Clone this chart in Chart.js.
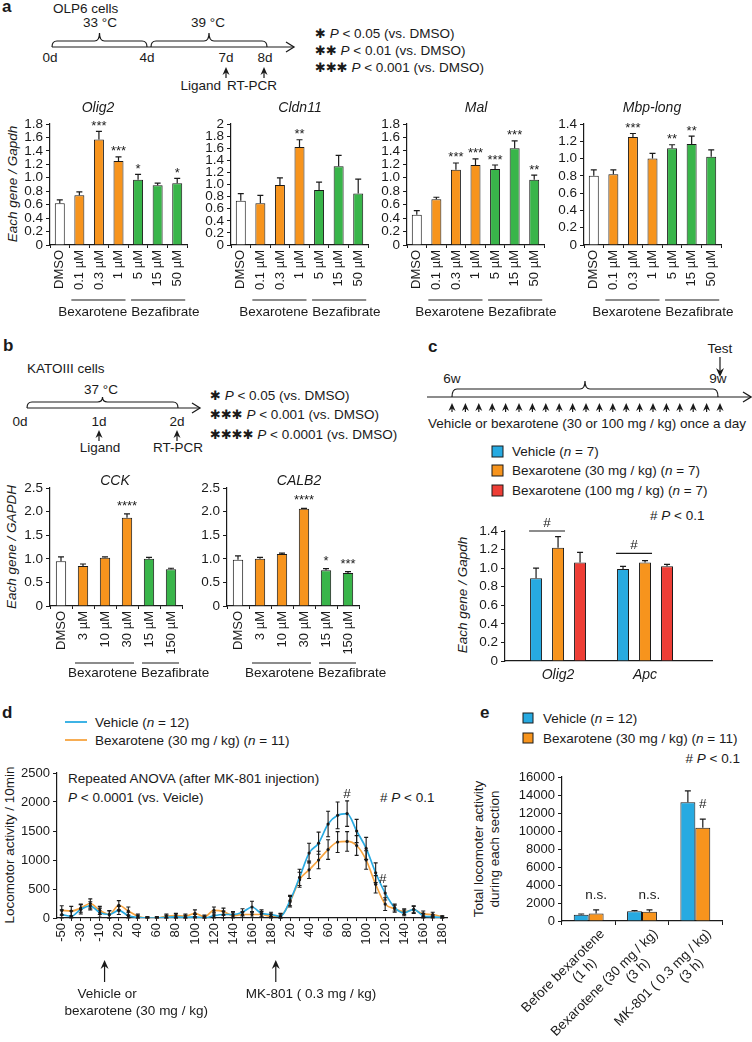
<!DOCTYPE html>
<html>
<head>
<meta charset="utf-8">
<title>Bexarotene figure</title>
<script src="https://cdn.jsdelivr.net/npm/chart.js@4.4.1/dist/chart.umd.min.js"></script>
<style>
  html, body { margin: 0; padding: 0; background: #fff; }
  #fig { position: relative; width: 752px; height: 1042px; overflow: hidden; background: #fff; }
  #fig canvas { position: absolute; }
  #art { position: absolute; left: 0; top: 0; }
  #art text { font-family: "Liberation Sans", Arial, sans-serif; font-size: 13.5px; fill: #1a1a1a; }
  #art .lbl { font-weight: bold; font-size: 17px; }
  #art .it { font-style: italic; }
  #art .star { font-family: "DejaVu Sans", sans-serif; font-size: 13px; }
</style>
</head>
<body>
<div id="fig">
<svg id="art" width="752" height="1042" xml:space="preserve">
  <!-- a: OLP6 timeline -->
  <text class="lbl" x="2" y="12">a</text>
  <text x="53" y="13">OLP6 cells</text>
  <text x="100" y="27" text-anchor="middle">33 °C</text>
  <text x="208" y="27" text-anchor="middle">39 °C</text>
  <text x="50" y="62" text-anchor="middle">0d</text>
  <text x="147" y="62" text-anchor="middle">4d</text>
  <text x="226" y="62" text-anchor="middle">7d</text>
  <text x="265" y="62" text-anchor="middle">8d</text>
  <text x="221" y="90" text-anchor="end">Ligand</text>
  <text x="227" y="90">RT-PCR</text>
  <text x="315" y="38"><tspan class="star">✱</tspan> <tspan class="it">P</tspan> &lt; 0.05  (vs. DMSO)</text>
  <text x="315" y="55"><tspan class="star">✱✱</tspan> <tspan class="it">P</tspan> &lt; 0.01  (vs. DMSO)</text>
  <text x="315" y="72"><tspan class="star">✱✱✱</tspan>  <tspan class="it">P</tspan> &lt; 0.001  (vs. DMSO)</text>
  <text class="it" font-size="14" transform="translate(17,184) rotate(-90)" text-anchor="middle">Each gene / Gapdh</text>

  <!-- b: KATOIII timeline -->
  <text class="lbl" x="3" y="351">b</text>
  <text x="27" y="373">KATOIII cells</text>
  <text x="101" y="394" text-anchor="middle">37 °C</text>
  <text x="20" y="426" text-anchor="middle">0d</text>
  <text x="99" y="426" text-anchor="middle">1d</text>
  <text x="177" y="426" text-anchor="middle">2d</text>
  <text x="100" y="452" text-anchor="middle">Ligand</text>
  <text x="178" y="452" text-anchor="middle">RT-PCR</text>
  <text x="210" y="400"><tspan class="star">✱</tspan> <tspan class="it">P</tspan> &lt; 0.05  (vs. DMSO)</text>
  <text x="210" y="419"><tspan class="star">✱✱✱</tspan>  <tspan class="it">P</tspan> &lt; 0.001 (vs. DMSO)</text>
  <text x="210" y="439"><tspan class="star">✱✱✱✱</tspan>  <tspan class="it">P</tspan> &lt; 0.0001 (vs. DMSO)</text>
  <text class="it" font-size="14" transform="translate(16,547) rotate(-90)" text-anchor="middle">Each gene / GAPDH</text>

  <!-- c: in vivo schedule -->
  <text class="lbl" x="428" y="352">c</text>
  <text x="720" y="353" text-anchor="middle">Test</text>
  <text x="452" y="383" text-anchor="middle">6w</text>
  <text x="718" y="383" text-anchor="middle">9w</text>
  <text x="587" y="428" text-anchor="middle">Vehicle or bexarotene (30 or 100 mg / kg) once a day</text>
  <rect x="492" y="446" width="11" height="11" fill="#27AAE1" stroke="#1a1a1a" stroke-width="1"/>
  <rect x="492" y="465" width="11" height="11" fill="#F7941D" stroke="#1a1a1a" stroke-width="1"/>
  <rect x="492" y="485" width="11" height="11" fill="#EE3E36" stroke="#1a1a1a" stroke-width="1"/>
  <text x="512" y="456">Vehicle (<tspan class="it">n</tspan> = 7)</text>
  <text x="512" y="475">Bexarotene (30 mg / kg) (<tspan class="it">n</tspan> = 7)</text>
  <text x="512" y="495">Bexarotene (100 mg / kg) (<tspan class="it">n</tspan> = 7)</text>
  <text x="650" y="520"># <tspan class="it">P</tspan> &lt; 0.1</text>
  <text class="it" font-size="14" transform="translate(467,595) rotate(-90)" text-anchor="middle">Each gene / Gapdh</text>

  <!-- d -->
  <text class="lbl" x="2" y="718">d</text>
  <text x="95" y="727">Vehicle (<tspan class="it">n</tspan> = 12)</text>
  <text x="95" y="745">Bexarotene (30 mg / kg) (<tspan class="it">n</tspan> = 11)</text>
  <text x="68" y="783">Repeated ANOVA (after MK-801 injection)</text>
  <text x="68" y="802"><tspan class="it">P</tspan> &lt; 0.0001 (vs. Veicle)</text>
  <text x="380" y="802"># <tspan class="it">P</tspan> &lt; 0.1</text>
  <text transform="translate(14,845) rotate(-90)" text-anchor="middle">Locomotor activity / 10min</text>

  <!-- e -->
  <text class="lbl" x="480" y="718">e</text>
  <rect x="523" y="713" width="10" height="10" fill="#27AAE1" stroke="#1a1a1a" stroke-width="1"/>
  <rect x="523" y="733" width="10" height="10" fill="#F7941D" stroke="#1a1a1a" stroke-width="1"/>
  <text x="543" y="723">Vehicle (<tspan class="it">n</tspan> = 12)</text>
  <text x="543" y="743">Bexarotene (30 mg / kg) (<tspan class="it">n</tspan> = 11)</text>
  <text x="740" y="763" text-anchor="end"># <tspan class="it">P</tspan> &lt; 0.1</text>
  <text transform="translate(483,849) rotate(-90)" text-anchor="middle">Total locomoter activity</text>
  <text transform="translate(499,849) rotate(-90)" text-anchor="middle">during each section</text>
</svg>
</div>

<script>
// ---- a: OLP6 cells, qPCR (each gene / Gapdh) ----
const aDoses = ["DMSO", "0.1 µM", "0.3 µM", "1 µM", "5 µM", "15 µM", "50 µM"];
const drugGroups = ["Bexarotene", "Bezafibrate"];
const olig2Mean = [0.62, 0.74, 1.57, 1.25, 0.97, 0.89, 0.92];
const olig2Err  = [0.05, 0.05, 0.12, 0.06, 0.08, 0.03, 0.07];
const olig2Sig  = ["", "", "***", "***", "*", "", "*"];
const cldn11Mean = [0.73, 0.69, 0.99, 1.62, 0.91, 1.30, 0.85];
const cldn11Err  = [0.12, 0.13, 0.12, 0.12, 0.13, 0.18, 0.24];
const cldn11Sig  = ["", "", "", "**", "", "", ""];
const malMean = [0.45, 0.68, 1.12, 1.19, 1.13, 1.44, 0.97];
const malErr  = [0.06, 0.03, 0.10, 0.09, 0.06, 0.11, 0.07];
const malSig  = ["", "", "***", "***", "***", "***", "**"];
const mbpMean = [0.80, 0.82, 1.25, 1.00, 1.12, 1.17, 1.02];
const mbpErr  = [0.07, 0.05, 0.04, 0.06, 0.04, 0.09, 0.08];
const mbpSig  = ["", "", "***", "", "**", "**", ""];

// ---- b: KATOIII cells (each gene / GAPDH) ----
const bDoses = ["DMSO", "3 µM", "10 µM", "30 µM", "15 µM", "150 µM"];
const cckMean = [0.95, 0.85, 1.02, 1.87, 1.00, 0.78];
const cckErr  = [0.09, 0.04, 0.02, 0.08, 0.03, 0.02];
const cckSig  = ["", "", "", "****", "", ""];
const calb2Mean = [0.98, 1.00, 1.10, 2.06, 0.76, 0.70];
const calb2Err  = [0.08, 0.03, 0.02, 0.01, 0.03, 0.03];
const calb2Sig  = ["", "", "", "****", "*", "***"];

// ---- c: in vivo, each gene / Gapdh ----
const cGenes = ["Olig2", "Apc"];
const cVehicle = [0.89, 0.99];
const cVehicleErr = [0.11, 0.03];
const cBex30 = [1.22, 1.06];
const cBex30Err = [0.12, 0.02];
const cBex100 = [1.06, 1.02];
const cBex100Err = [0.11, 0.02];
const cHashLevel = [1.40, 1.16];

// ---- d: locomotor activity per 10 min ----
const dTimes = [-50, -40, -30, -20, -10,
  10, 20, 30, 40, 50, 60, 70, 80, 90, 100, 110, 120, 130, 140, 150, 160, 170, 180,
  10, 20, 30, 40, 50, 60, 70, 80, 90, 100, 110, 120, 130, 140, 150, 160, 170, 180];
const dVehicle = [60, 30, 150, 210, 90,
  60, 130, 40, 10, 0, 0, 10, 20, 10, 20, 0, 40, 60, 60, 100, 190, 80, 60,
  30, 300, 700, 1120, 1290, 1620, 1770, 1800, 1500, 1200, 780, 430, 180, 90, 150, 40, 20, 10];
const dVehicleErr = [80, 90, 80, 70, 80,
  70, 70, 60, 40, 20, 20, 40, 50, 40, 40, 30, 60, 60, 50, 60, 100, 60, 40,
  40, 90, 140, 170, 190, 220, 230, 220, 200, 190, 170, 120, 60, 50, 60, 40, 30, 20];
const dBex = [130, 120, 170, 250, 130,
  60, 220, 120, 30, 0, 0, 30, 40, 30, 80, 20, 130, 110, 40, 60, 60, 60, 30,
  40, 280, 660, 830, 1000, 1180, 1310, 1320, 1250, 1000, 580, 240, 160, 110, 140, 70, 60, 20];
const dBexErr = [80, 80, 70, 80, 70,
  60, 80, 70, 40, 20, 20, 40, 40, 40, 60, 30, 60, 60, 50, 50, 50, 50, 40,
  40, 90, 130, 150, 150, 170, 180, 170, 170, 160, 150, 110, 60, 50, 60, 50, 40, 20];
const dHashAt = [30, 33];
const dInjectAfter = [4, 22];
const dInjectText = [["Vehicle or", "bexarotene (30 mg / kg)"], ["MK-801 ( 0.3 mg / kg)"]];

// ---- e: total locomotor activity per section ----
const eSections = [["Before bexarotene", "(1 h)"], ["Bexarotene (30 mg / kg)", "(3 h)"], ["MK-801 ( 0.3 mg / kg)", "(3 h)"]];
const eVehicle = [700, 1075, 13200];
const eVehicleErr = [80, 90, 1250];
const eBex = [820, 1040, 10370];
const eBexErr = [420, 200, 950];
const eMarks = ["n.s.", "n.s.", "#"];

// ---------------------------------------------------------------
const INK = "#1a1a1a", ORANGE = "#F7941D", GREEN = "#39B54A", BLUE = "#27AAE1", RED = "#EE3E36";
const LINE_BLUE = "#29ABE2", LINE_ORANGE = "#F7A440";
const FONT = '"Liberation Sans", Arial, sans-serif';

Chart.defaults.font.family = FONT;
Chart.defaults.font.size = 13.5;
Chart.defaults.color = INK;
Chart.defaults.animation = false;

function addCanvas(id, left, top, width, height) {
  const c = document.createElement("canvas");
  c.id = id;
  c.width = width;
  c.height = height;
  c.style.left = left + "px";
  c.style.top = top + "px";
  c.style.width = width + "px";
  c.style.height = height + "px";
  document.getElementById("fig").appendChild(c);
  return c;
}

// keep the plot area where the reference has it
function fixW(w) {
  return s => { s.width = w; s.paddingLeft = s.paddingRight = s.paddingTop = s.paddingBottom = 0; };
}
function fixH(h) {
  return s => { s.height = h; s.paddingLeft = s.paddingRight = s.paddingTop = s.paddingBottom = 0; };
}

const fmt1 = v => v === 0 ? "0" : v.toFixed(1);
const fmtInt = v => String(v);

function valAxis(max, step, w, fmt, size) {
  return {
    min: 0, max: max,
    ticks: { stepSize: step, autoSkip: false, padding: 3, callback: fmt, font: { size: size }, color: INK },
    grid: { drawOnChartArea: false, drawTicks: true, tickLength: 4, color: INK, lineWidth: 1 },
    border: { display: true, color: INK, width: 1.2 },
    afterFit: fixW(w)
  };
}

function catAxis(h, size) {
  return {
    ticks: { autoSkip: false, minRotation: 90, maxRotation: 90, padding: 2, font: { size: size }, color: INK },
    grid: { drawOnChartArea: false, drawTicks: true, tickLength: 3, color: INK, offset: true },
    border: { display: true, color: INK, width: 1.2 },
    afterFit: fixH(h)
  };
}

function errBar(ctx, x, from, to, cap) {
  ctx.beginPath();
  ctx.moveTo(x, from);
  ctx.lineTo(x, to);
  ctx.moveTo(x - cap, to);
  ctx.lineTo(x + cap, to);
  ctx.stroke();
}

// error bars, stars, title and the Bexarotene / Bezafibrate brackets
function geneExtras(p) {
  return {
    id: "geneExtras",
    afterDatasetsDraw(chart) {
      const { ctx, chartArea: area, scales: { x, y } } = chart;
      const bars = chart.getDatasetMeta(0).data;
      ctx.save();
      ctx.strokeStyle = INK;
      ctx.fillStyle = INK;
      ctx.lineWidth = 1.2;
      ctx.textAlign = "center";
      ctx.font = "13px " + FONT;
      bars.forEach((bar, i) => {
        const top = y.getPixelForValue(p.mean[i] + p.err[i]);
        errBar(ctx, bar.x, bar.y, top, 3);
        if (p.sig[i]) ctx.fillText(p.sig[i], bar.x, top + p.starDy);
      });

      ctx.font = "italic 14px " + FONT;
      ctx.fillText(p.title, area.left + p.titleDx, area.top + p.titleDy);

      const n = p.labels.length;
      const a = x.getPixelForValue(1), b = x.getPixelForValue(p.nBex);
      const c = x.getPixelForValue(p.nBex + 1), d = x.getPixelForValue(n - 1);
      const ly = area.bottom + p.lineDy, ty = area.bottom + p.textDy;
      ctx.beginPath();
      ctx.moveTo(a - 8, ly); ctx.lineTo(b + 7, ly);
      ctx.moveTo(c - 7, ly); ctx.lineTo(d + 8, ly);
      ctx.stroke();
      const mid = (b + c) / 2;
      ctx.font = "13.5px " + FONT;
      ctx.textAlign = "right";
      ctx.fillText(drugGroups[0], mid - 1, ty);
      ctx.textAlign = "left";
      ctx.fillText(drugGroups[1], mid + 3, ty);
      ctx.restore();
    }
  };
}

function geneChart(p) {
  const YW = 36, RP = 36;
  const cv = addCanvas(p.id, p.axisX - YW, p.top, YW + p.plotW + RP, p.bottom - p.top);
  const colors = p.labels.map((l, i) => i === 0 ? "#ffffff" : (i <= p.nBex ? ORANGE : GREEN));
  return new Chart(cv, {
    type: "bar",
    data: {
      labels: p.labels,
      datasets: [{ data: p.mean, backgroundColor: colors, borderColor: INK, borderWidth: 1,
                   barPercentage: p.barPct, categoryPercentage: 1 }]
    },
    options: {
      responsive: false, devicePixelRatio: 1, animation: false,
      layout: { padding: { top: p.plotTop - p.top, right: RP, bottom: 0, left: 0 } },
      plugins: { legend: { display: false }, tooltip: { enabled: false } },
      scales: {
        x: catAxis(p.bottom - p.plotBottom, 13),
        y: valAxis(p.max, p.step, YW, p.fmt, 13.5)
      }
    },
    plugins: [geneExtras(p)]
  });
}

// panel a
const aBase = { labels: aDoses, nBex: 3, top: 92, bottom: 322, plotTop: 124, plotBottom: 245, plotW: 137,
                step: 0.2, barPct: 0.51, titleDy: -12, starDy: -1.5, lineDy: 55, textDy: 71 };
geneChart(Object.assign({}, aBase, { id: "olig2", axisX: 50, max: 1.8, fmt: fmt1, title: "Olig2", titleDx: 48,
  mean: olig2Mean, err: olig2Err, sig: olig2Sig }));
geneChart(Object.assign({}, aBase, { id: "cldn11", axisX: 231, max: 2.0, title: "Cldn11", titleDx: 69,
  fmt: v => v === 0 ? "0" : (v === 2 ? "2" : v.toFixed(1)),
  mean: cldn11Mean, err: cldn11Err, sig: cldn11Sig }));
geneChart(Object.assign({}, aBase, { id: "mal", axisX: 407, max: 1.8, fmt: fmt1, title: "Mal", titleDx: 69,
  mean: malMean, err: malErr, sig: malSig }));
geneChart(Object.assign({}, aBase, { id: "mbp", axisX: 584, max: 1.4, fmt: fmt1, title: "Mbp-long", titleDx: 68,
  mean: mbpMean, err: mbpErr, sig: mbpSig }));

// panel b
const bBase = { labels: bDoses, nBex: 3, top: 470, bottom: 688, plotTop: 488, plotBottom: 606, plotW: 132,
                step: 0.5, max: 2.5, fmt: fmt1, barPct: 0.47, titleDy: -3, starDy: -4, lineDy: 57, textDy: 71 };
geneChart(Object.assign({}, bBase, { id: "cck", axisX: 50, title: "CCK", titleDx: 65,
  mean: cckMean, err: cckErr, sig: cckSig }));
geneChart(Object.assign({}, bBase, { id: "calb2", axisX: 227, title: "CALB2", titleDx: 72,
  mean: calb2Mean, err: calb2Err, sig: calb2Sig }));

// panel c
(function () {
  const means = [cVehicle, cBex30, cBex100];
  const errs = [cVehicleErr, cBex30Err, cBex100Err];
  const colors = [BLUE, ORANGE, RED];
  const cv = addCanvas("cChart", 505 - 36, 510, 36 + 207 + 6, 178);
  new Chart(cv, {
    type: "bar",
    data: {
      datasets: means.map((m, k) => ({
        data: m.map((v, i) => ({ x: i, y: v })),
        backgroundColor: colors[k], borderColor: INK, borderWidth: 1,
        barPercentage: 0.545, categoryPercentage: 0.7586
      }))
    },
    options: {
      responsive: false, devicePixelRatio: 1, animation: false,
      layout: { padding: { top: 21, right: 6, bottom: 0, left: 0 } },
      plugins: { legend: { display: false }, tooltip: { enabled: false } },
      scales: {
        x: {
          type: "linear", min: -0.61, max: 1.77, offset: false,
          afterBuildTicks: s => { s.ticks = cGenes.map((g, i) => ({ value: i })); },
          ticks: { callback: v => cGenes[v], font: { size: 14, style: "italic" }, padding: 6, color: INK,
                   autoSkip: false, maxRotation: 0 },
          grid: { display: false, drawTicks: false },
          border: { display: true, color: INK, width: 1.2 },
          afterFit: fixH(27)
        },
        y: valAxis(1.4, 0.2, 36, fmt1, 13.5)
      }
    },
    plugins: [{
      id: "cExtras",
      afterDatasetsDraw(chart) {
        const { ctx, scales: { y } } = chart;
        ctx.save();
        ctx.strokeStyle = INK; ctx.fillStyle = INK; ctx.lineWidth = 1.2;
        errs.forEach((e, k) => {
          chart.getDatasetMeta(k).data.forEach((bar, i) => {
            errBar(ctx, bar.x, bar.y, y.getPixelForValue(means[k][i] + e[i]), 3);
          });
        });
        ctx.font = "13.5px " + FONT;
        ctx.textAlign = "center";
        cHashLevel.forEach((lvl, i) => {
          const b0 = chart.getDatasetMeta(0).data[i], b1 = chart.getDatasetMeta(1).data[i];
          const x0 = b0.x - b0.width / 2 - 1, x1 = b1.x + b1.width / 2 + 1;
          const yy = y.getPixelForValue(lvl);
          ctx.beginPath(); ctx.moveTo(x0, yy); ctx.lineTo(x1, yy); ctx.stroke();
          ctx.fillText("#", (x0 + x1) / 2, yy - 4);
        });
        ctx.restore();
      }
    }]
  });
})();

// panel d
(function () {
  const cv = addCanvas("dChart", 57 - 40, 765, 40 + 390 + 6, 1040 - 765);
  const errs = [dVehicleErr, dBexErr];
  new Chart(cv, {
    type: "line",
    data: {
      labels: dTimes,
      datasets: [
        { data: dVehicle, borderColor: LINE_BLUE, borderWidth: 1.7, pointRadius: 1.6, pointBackgroundColor: INK,
          pointBorderWidth: 0, cubicInterpolationMode: "monotone", fill: false },
        { data: dBex, borderColor: LINE_ORANGE, borderWidth: 1.7, pointRadius: 1.6, pointBackgroundColor: INK,
          pointBorderWidth: 0, cubicInterpolationMode: "monotone", fill: false }
      ]
    },
    options: {
      responsive: false, devicePixelRatio: 1, animation: false,
      layout: { padding: { top: 8, right: 6, bottom: 0, left: 0 } },
      plugins: { legend: { display: false }, tooltip: { enabled: false } },
      scales: {
        x: {
          offset: true,
          ticks: { autoSkip: false, minRotation: 90, maxRotation: 90, padding: 2, font: { size: 13 }, color: INK,
                   callback: (v, i) => i % 2 === 0 ? String(dTimes[i]) : "" },
          grid: { drawOnChartArea: false, drawTicks: true, tickLength: 3, color: INK, offset: false },
          border: { display: true, color: INK, width: 1.2 },
          afterFit: fixH(122)
        },
        y: valAxis(2500, 500, 40, fmtInt, 13)
      }
    },
    plugins: [{
      id: "dExtras",
      afterDatasetsDraw(chart) {
        const { ctx, chartArea: area, scales: { x, y } } = chart;
        ctx.save();
        ctx.strokeStyle = INK; ctx.fillStyle = INK; ctx.lineWidth = 1.1;
        errs.forEach((e, k) => {
          const vals = chart.data.datasets[k].data;
          chart.getDatasetMeta(k).data.forEach((pt, i) => {
            const hi = y.getPixelForValue(vals[i] + e[i]);
            const lo = y.getPixelForValue(Math.max(0, vals[i] - e[i]));
            ctx.beginPath();
            ctx.moveTo(pt.x, lo); ctx.lineTo(pt.x, hi);
            ctx.moveTo(pt.x - 2, hi); ctx.lineTo(pt.x + 2, hi);
            ctx.moveTo(pt.x - 2, lo); ctx.lineTo(pt.x + 2, lo);
            ctx.stroke();
          });
        });
        // # marks
        ctx.font = "13.5px " + FONT;
        ctx.textAlign = "center";
        const blue = chart.getDatasetMeta(0).data;
        const i0 = dHashAt[0], i1 = dHashAt[1];
        ctx.fillText("#", blue[i0].x, y.getPixelForValue(dVehicle[i0] + dVehicleErr[i0]) - 3);
        ctx.fillText("#", blue[i1].x + 7, blue[i1].y + 10);
        // injection arrows
        ctx.lineWidth = 1.2;
        dInjectAfter.forEach((i, k) => {
          const xa = (x.getPixelForValue(i) + x.getPixelForValue(i + 1)) / 2;
          const tip = area.bottom + 42, base = area.bottom + 64;
          ctx.beginPath(); ctx.moveTo(xa, base); ctx.lineTo(xa, tip + 4); ctx.stroke();
          ctx.beginPath();
          ctx.moveTo(xa, tip); ctx.lineTo(xa + 4, tip + 9); ctx.lineTo(xa, tip + 6); ctx.lineTo(xa - 4, tip + 9);
          ctx.closePath(); ctx.fill();
          ctx.textAlign = "left";
          dInjectText[k].forEach((t, j) => {
            const dx = k === 0 ? (j === 0 ? -27 : -40) : -30;
            ctx.fillText(t, xa + dx, area.bottom + 80 + j * 17);
          });
        });
        ctx.restore();
      }
    }]
  });
})();

// panel e
(function () {
  const cv = addCanvas("eChart", 562 - 50, 770, 50 + 160 + 6, 1040 - 770);
  const means = [eVehicle, eBex];
  const errs = [eVehicleErr, eBexErr];
  new Chart(cv, {
    type: "bar",
    data: {
      labels: eSections,
      datasets: [
        { data: eVehicle, backgroundColor: BLUE, borderColor: INK, borderWidth: 1, barPercentage: 1, categoryPercentage: 0.56 },
        { data: eBex, backgroundColor: ORANGE, borderColor: INK, borderWidth: 1, barPercentage: 1, categoryPercentage: 0.56 }
      ]
    },
    options: {
      responsive: false, devicePixelRatio: 1, animation: false,
      layout: { padding: { top: 7, right: 6, bottom: 0, left: 0 } },
      plugins: { legend: { display: false }, tooltip: { enabled: false } },
      scales: {
        x: {
          ticks: { display: false },
          grid: { drawOnChartArea: false, drawTicks: true, tickLength: 4, color: INK, offset: true },
          border: { display: true, color: INK, width: 1.2 },
          afterFit: fixH(119)
        },
        y: valAxis(16000, 2000, 50, fmtInt, 13)
      }
    },
    plugins: [{
      id: "eExtras",
      afterDatasetsDraw(chart) {
        const { ctx, chartArea: area, scales: { x, y } } = chart;
        ctx.save();
        ctx.strokeStyle = INK; ctx.fillStyle = INK; ctx.lineWidth = 1.2;
        errs.forEach((e, k) => {
          chart.getDatasetMeta(k).data.forEach((bar, i) => {
            errBar(ctx, bar.x, bar.y, y.getPixelForValue(means[k][i] + e[i]), 3);
          });
        });
        ctx.font = "13.5px " + FONT;
        ctx.textAlign = "center";
        const bex = chart.getDatasetMeta(1).data;
        eMarks.forEach((m, i) => {
          ctx.fillText(m, bex[i].x, y.getPixelForValue(eBex[i] + eBexErr[i]) - 11);
        });
        eSections.forEach((lines, i) => {
          const tx = x.getPixelForValue(i);
          ctx.save();
          ctx.translate(tx + 9, area.bottom + 6);
          ctx.rotate(-Math.PI / 4);
          ctx.textBaseline = "top";
          ctx.textAlign = "right";
          ctx.fillText(lines[0], 0, 0);
          ctx.textAlign = "center";
          ctx.fillText(lines[1], -40, 15);
          ctx.restore();
        });
        ctx.restore();
      }
    }]
  });
})();

// ---- schematic lines (timelines, braces, arrows) ----
const NS = "http://www.w3.org/2000/svg";
const art = document.getElementById("art");
function sv(tag, attrs) {
  const e = document.createElementNS(NS, tag);
  for (const k in attrs) e.setAttribute(k, attrs[k]);
  art.appendChild(e);
  return e;
}
function seg(x1, y1, x2, y2, w, color) {
  return sv("line", { x1: x1, y1: y1, x2: x2, y2: y2, stroke: color || INK, "stroke-width": w || 1.2 });
}
function brace(x1, x2, yb, ym, yt) {
  const r = 5, xm = (x1 + x2) / 2;
  sv("path", {
    d: `M${x1},${yb} Q${x1},${ym} ${x1 + r},${ym} L${xm - r},${ym} Q${xm},${ym} ${xm},${yt} ` +
       `Q${xm},${ym} ${xm + r},${ym} L${x2 - r},${ym} Q${x2},${ym} ${x2},${yb}`,
    fill: "none", stroke: INK, "stroke-width": 1.2
  });
}
function timeline(x1, x2, y) {
  seg(x1, y, x2, y);
  sv("path", { d: `M${x2 - 8},${y - 5} L${x2},${y} L${x2 - 8},${y + 5}`, fill: "none", stroke: INK, "stroke-width": 1.3 });
}
function upArrow(x, yt, yb) {
  seg(x, yb, x, yt + 4);
  sv("path", { d: `M${x},${yt} L${x + 3.5},${yt + 8} L${x},${yt + 5.5} L${x - 3.5},${yt + 8} Z`, fill: INK });
}
function downArrow(x, yt, yb) {
  seg(x, yt, x, yb - 4);
  sv("path", { d: `M${x},${yb} L${x + 4},${yb - 9} L${x},${yb - 6} L${x - 4},${yb - 9} Z`, fill: INK });
}

// a
timeline(52, 294, 47);
brace(52, 147, 47, 41, 33);
brace(151, 267, 47, 41, 33);
upArrow(226, 67, 78);
upArrow(264, 67, 78);
// b
timeline(27, 200, 408);
brace(27, 178, 408, 402, 397);
upArrow(99, 430, 441);
upArrow(177, 430, 441);
// c
timeline(427, 751, 397);
brace(452, 718, 397, 389, 381);
downArrow(720, 357, 377);
for (let k = 0; k < 21; k++) upArrow(452 + k * 13.4, 403, 412);
// d legend lines
seg(65, 722, 87, 722, 1.8, LINE_BLUE);
seg(65, 740, 87, 740, 1.8, LINE_ORANGE);
</script>
</body>
</html>
